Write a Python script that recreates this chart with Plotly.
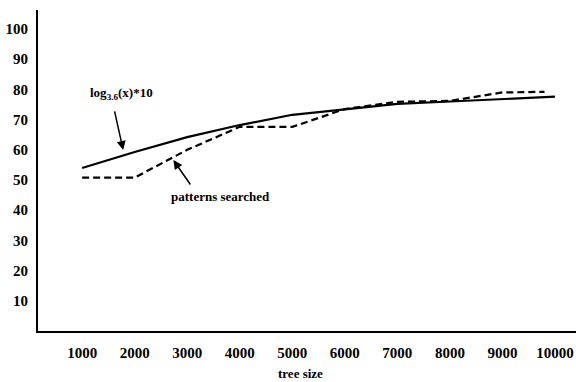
import plotly.graph_objects as go

# Data
tree_size = [1000, 2000, 3000, 4000, 5000, 6000, 7000, 8000, 9000, 10000]
log_curve = [54.0, 59.3, 64.2, 68.2, 71.6, 73.5, 75.2, 76.0, 76.8, 77.6]

pattern_size = [1000, 2000, 3000, 4000, 5000, 6000, 7000, 8000, 9000, 9800]
patterns_searched = [50.8, 50.8, 60.0, 67.6, 67.6, 73.5, 75.9, 76.2, 79.0, 79.2]

x_ticks = [1000, 2000, 3000, 4000, 5000, 6000, 7000, 8000, 9000, 10000]
y_ticks = [10, 20, 30, 40, 50, 60, 70, 80, 90, 100]

FONT = "Liberation Serif"

fig = go.Figure()
fig.add_trace(go.Scatter(x=tree_size, y=log_curve, mode="lines",
                         line=dict(color="black", width=2.2), showlegend=False))
fig.add_trace(go.Scatter(x=pattern_size, y=patterns_searched, mode="lines",
                         line=dict(color="black", width=2.2, dash="7px,4px"),
                         showlegend=False))

tick_font = dict(family=FONT, size=15, color="black", weight="bold")

fig.update_layout(
    width=576, height=382,
    margin=dict(l=38, r=0, t=10, b=51),
    paper_bgcolor="white", plot_bgcolor="white",
    xaxis=dict(range=[160, 10400], tickvals=x_ticks, ticktext=[str(v) for v in x_ticks],
               showgrid=False, zeroline=False, showline=True, linecolor="black",
               linewidth=2, ticks="", tickfont=tick_font, ticklabelstandoff=7,
               automargin=False),
    yaxis=dict(range=[0, 106.3], tickvals=y_ticks, ticktext=[str(v) for v in y_ticks],
               showgrid=False, zeroline=False, showline=True, linecolor="black",
               linewidth=2, ticks="", tickfont=tick_font, ticklabelstandoff=5,
               automargin=False),
    font=dict(family=FONT, color="black"),
)

ann_font = dict(family=FONT, size=13, color="black", weight="bold")

# axis title
fig.add_annotation(text="tree size", x=5160, xref="x", y=-0.133, yref="paper",
                   showarrow=False, font=ann_font, xanchor="center", yanchor="middle")

# log label and arrow
fig.add_annotation(text="log<sub>3.6</sub>(x)*10", x=1744, y=78.6, xref="x", yref="y",
                   showarrow=False, font=ann_font)
fig.add_annotation(x=1782, y=59.9, ax=1611, ay=73.2, xref="x", yref="y",
                   axref="x", ayref="y", text="", showarrow=True,
                   arrowhead=2, arrowsize=1.2, arrowwidth=1.5, arrowcolor="black")

# patterns searched label and arrow
fig.add_annotation(text="patterns searched", x=3634, y=44.4, xref="x", yref="y",
                   showarrow=False, font=ann_font)
fig.add_annotation(x=2737, y=56.6, ax=3080, ay=48.0, xref="x", yref="y",
                   axref="x", ayref="y", text="", showarrow=True,
                   arrowhead=2, arrowsize=1.2, arrowwidth=1.5, arrowcolor="black")

fig.write_html("out.html", config={"displayModeBar": False},
               post_script="document.body.style.margin='0';document.body.style.overflow='hidden';")
